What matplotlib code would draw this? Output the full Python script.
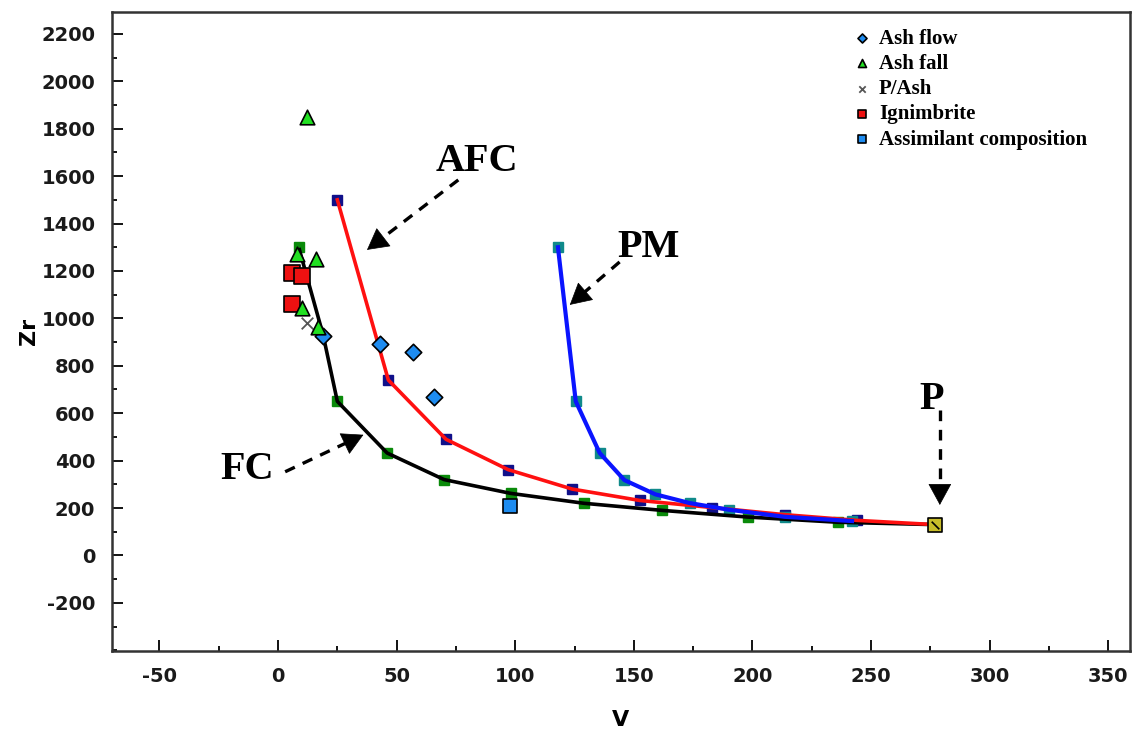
import numpy as np
import matplotlib
matplotlib.use("Agg")
import matplotlib.pyplot as plt
from matplotlib.ticker import MultipleLocator

plt.rcParams["axes.unicode_minus"] = False

# model curves (V, Zr)
fc_v = [9, 19, 25, 46, 70, 98, 129, 162, 198, 236, 277]
fc_zr = [1290, 930, 650, 432, 320, 262, 220, 190, 162, 140, 130]
fc_sq_v = [9, 25, 46, 70, 98, 129, 162, 198, 236]
fc_sq_zr = [1300, 650, 432, 320, 262, 220, 190, 162, 140]

afc_v = [25, 46.5, 70.8, 97, 124, 152.5, 183, 213.6, 244, 277]
afc_zr = [1500, 740, 490, 362, 280, 232, 202, 172, 148, 130]

pm_v = [118, 125.5, 135.6, 146, 159, 173.5, 190, 213.6, 242]
pm_zr = [1300, 650, 432, 318, 258, 221, 193, 163, 145]

# samples
ashflow_v = [43, 56.7, 65.7, 19]
ashflow_zr = [890, 860, 668, 926]
ashfall_v = [12, 8, 16, 10, 17]
ashfall_zr = [1850, 1270, 1250, 1045, 965]
pash_v = [12]
pash_zr = [980]
ign_v = [6, 10, 6]
ign_zr = [1190, 1180, 1062]
assim_v = [97.7]
assim_zr = [209]
parent_v = [277]
parent_zr = [130]

# arrow labels: (text, text xy, tail xy, head xy)
labels = [("AFC", (84, 1660), (76, 1584), (37.5, 1289)),
          ("PM", (156, 1297), (144, 1238), (123, 1057)),
          ("FC", (-13, 361), (3, 353), (36, 509)),
          ("P", (275.5, 657), (279, 614), (279, 213))]

fig = plt.figure(figsize=(11.37, 7.32), dpi=100)
ax = fig.add_axes([0.0985, 0.111, 0.895, 0.8725])

ax.plot(fc_v, fc_zr, color="black", lw=2.6, zorder=3)
ax.plot(fc_sq_v, fc_sq_zr, ls="none", marker="s", ms=6.5, color="#0a8a0a", zorder=2)
ax.plot(afc_v[:-1], afc_zr[:-1], ls="none", marker="s", ms=6.5, color="#10108a", zorder=2)
ax.plot(afc_v, afc_zr, color="#ff1010", lw=2.6, zorder=3)
ax.plot(pm_v, pm_zr, ls="none", marker="s", ms=6.5, color="#108a8a", zorder=2)
ax.plot(pm_v, pm_zr, color="#0a14ff", lw=3.0, zorder=3)

ax.scatter(ashflow_v, ashflow_zr, marker="D", s=70, color="#1e8cf0", edgecolor="black",
           linewidth=1.2, zorder=5, label="Ash flow")
ax.scatter(ashfall_v, ashfall_zr, marker="^", s=110, color="#22e022", edgecolor="black",
           linewidth=1.2, zorder=5, label="Ash fall")
ax.scatter(pash_v, pash_zr, marker="x", s=70, color="#555555", linewidth=1.3, zorder=4,
           label="P/Ash")
ax.scatter(ign_v, ign_zr, marker="s", s=120, color="#ee1111", edgecolor="black",
           linewidth=1.2, zorder=4, label="Ignimbrite")
ax.scatter(assim_v, assim_zr, marker="s", s=110, color="#1e8cf0", edgecolor="black",
           linewidth=1.2, zorder=5, label="Assimilant composition")
ax.scatter(parent_v, parent_zr, marker="s", s=110, color="#c8bd2a", edgecolor="black",
           linewidth=1.2, zorder=6)
ax.scatter(parent_v, parent_zr, marker=(2, 0, 45), s=60, color="black", linewidth=1.2, zorder=7)

ax.set_xlim(-70, 359)
ax.set_ylim(-402, 2292)

# dashed shafts + solid filled heads
serif = {"family": "Liberation Serif", "weight": "bold"}
head_px = 20
for txt, txy, tail, head in labels:
    ax.text(txy[0], txy[1], txt, ha="center", va="center", fontsize=29, fontdict=serif)
    t_px = ax.transData.transform(tail)
    h_px = ax.transData.transform(head)
    d = (h_px - t_px) / np.hypot(*(h_px - t_px))
    base = ax.transData.inverted().transform(h_px - d * head_px)
    ax.plot([tail[0], base[0]], [tail[1], base[1]], color="black", lw=2.4,
            ls=(0, (3.2, 2.6)), zorder=4)
    ax.annotate("", xy=head, xytext=base,
                arrowprops=dict(arrowstyle="-|>,head_length=0.55,head_width=0.3", lw=0.5,
                                color="black", mutation_scale=26, shrinkA=0, shrinkB=0),
                zorder=4)

ax.xaxis.set_major_locator(MultipleLocator(50))
ax.xaxis.set_minor_locator(MultipleLocator(25))
ax.yaxis.set_minor_locator(MultipleLocator(100))
ax.set_yticks(range(-200, 2201, 200))
ax.tick_params(which="both", direction="in", top=False, right=False, width=1.3, pad=12)
ax.tick_params(which="major", length=8, labelsize=14)
ax.tick_params(which="minor", length=3.5)
for lab in ax.get_xticklabels() + ax.get_yticklabels():
    lab.set_fontweight("bold")
    lab.set_color("#1a1a1a")
for s in ax.spines.values():
    s.set_linewidth(1.8)
    s.set_color("#333333")

ax.set_ylabel("Zr", fontsize=16, fontweight="bold", labelpad=2)
ax.set_xlabel("V", fontsize=16, fontweight="bold", labelpad=17)

ax.legend(loc="upper left", bbox_to_anchor=(0.742, 0.975), bbox_transform=fig.transFigure,
          frameon=False, prop={"family": "Liberation Serif", "weight": "bold", "size": 15},
          markerscale=0.55, handlelength=0.8, handletextpad=0.4, labelspacing=0.25,
          borderpad=0, scatterpoints=1)

fig.savefig("out.png", dpi=100)
